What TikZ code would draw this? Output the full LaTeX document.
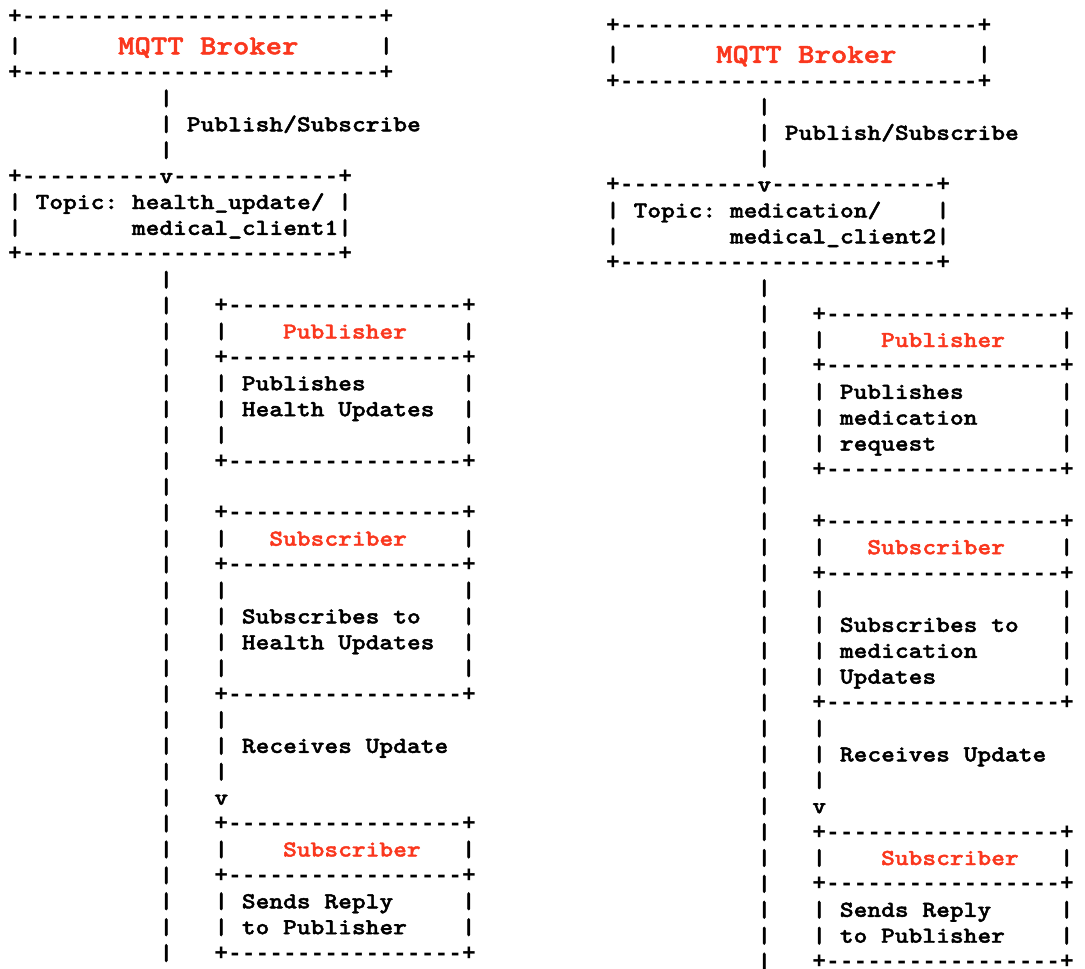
\documentclass[tikz,border=0pt]{standalone}
\usepackage{fontspec}
% bold typewriter face, widened to a 0.6em character cell
\newfontfamily\asciifont{lmmonolt10-bold.otf}[FakeStretch=1.143, FakeBold=1.8]
% face for the box edges (+, -): same 0.6em cell, shorter dashes
\newfontfamily\edgefont{Liberation Mono Bold}
\definecolor{labelred}{RGB}{250,55,30}

% a run of n hyphens
\ExplSyntaxOn
\NewExpandableDocumentCommand\rdash{m}{\prg_replicate:nn{#1}{-}}
\ExplSyntaxOff

\tikzset{
  asc/.style={inner sep=0pt, outer sep=0pt, anchor=base west, text=black,
    font=\asciifont\fontsize{17.2}{20}\selectfont},
  edge/.style={asc, font=\edgefont\fontsize{17.2}{20}\selectfont},
  redlabel/.style={asc, text=labelred},
  bigtitle/.style={asc, text=labelred,
    font=\asciifont\fontsize{20.5}{24}\selectfont}
}

% text segment placed on the character grid: column #3, row #4
\newcommand\seg[5][asc]{\node[#1] (\pfx-#2) at ({13.75*#3},{25.9*#4}) {#5};}

% parts shared by both flows
\newcommand\flowframe{%
  % broker box
  \seg[edge]{top}{0}{-0.143}{+\rdash{26}+}
  \seg{brokl}{0}{0.977}{|}
  \seg{brokr}{27}{0.977}{|}
  \seg[bigtitle]{broker}{8}{1.027}{MQTT Broker}
  \seg[edge]{brokbot}{0}{2}{+\rdash{26}+}
  % main stem
  \foreach \n in {3,4,5,10,11,...,36} {\seg{stem\n}{11}{\n}{|}}
  \seg{pubsub}{13}{4}{Publish/Subscribe}
  % topic box
  \seg[edge]{topictop}{0}{6}{+\rdash{10}{\asciifont v}\rdash{12}+}
  \seg{topl1}{0}{7}{|}
  \seg{topr1}{24}{7}{|}
  \seg{topl2}{0}{8}{|}
  \seg{topr2}{24}{8}{|}
  \seg[edge]{topicbot}{0}{9}{+\rdash{23}+}
  % client boxes
  \foreach \n in {11,13,17,19,21,26,31,33,36} {\seg[edge]{edge\n}{15}{\n}{+\rdash{17}+}}
  \foreach \n in {12,14,15,16,20,22,23,24,25,32,34,35} {%
    \seg{sidel\n}{15}{\n}{|}
    \seg{sider\n}{33}{\n}{|}}
  \foreach \n in {27,28,29} {\seg{link\n}{15}{\n}{|}}
  \seg{arrow}{15}{30}{v}
  \seg[redlabel]{pub}{20}{12}{Publisher}
  \seg[redlabel]{sub}{19}{20}{Subscriber}
  \seg[redlabel]{reply}{20}{32}{Subscriber}
  \seg{recv}{17}{28}{Receives~Update}
  \seg{send1}{17}{34}{Sends~Reply}
  \seg{send2}{17}{35}{to~Publisher}
}

\begin{document}
\begin{tikzpicture}[x=0.75pt, y=-0.75pt]
  \useasboundingbox (0,0) rectangle (1085,968);

  % health update flow
  \begin{scope}[shift={(8.1,27.7)}]
    \def\pfx{L}
    \flowframe
    \seg{topic}{2}{7}{Topic:~health\_update/}
    \seg{client}{9}{8}{medical\_client1}
    \seg{pubt1}{17}{14}{Publishes}
    \seg{pubt2}{17}{15}{Health~Updates}
    \seg{subt1}{17}{23}{Subscribes~to}
    \seg{subt2}{17}{24}{Health~Updates}
  \end{scope}

  % medication flow
  \begin{scope}[shift={(606.1,36.2)}]
    \def\pfx{R}
    \flowframe
    \seg{topic}{2}{7}{Topic:~medication/}
    \seg{client}{9}{8}{medical\_client2}
    \seg{pubt1}{17}{14}{Publishes}
    \seg{pubt2}{17}{15}{medication}
    \seg{pubt3}{17}{16}{request}
    \seg{subt1}{17}{23}{Subscribes~to}
    \seg{subt2}{17}{24}{medication}
    \seg{subt3}{17}{25}{Updates}
  \end{scope}
\end{tikzpicture}
\end{document}
